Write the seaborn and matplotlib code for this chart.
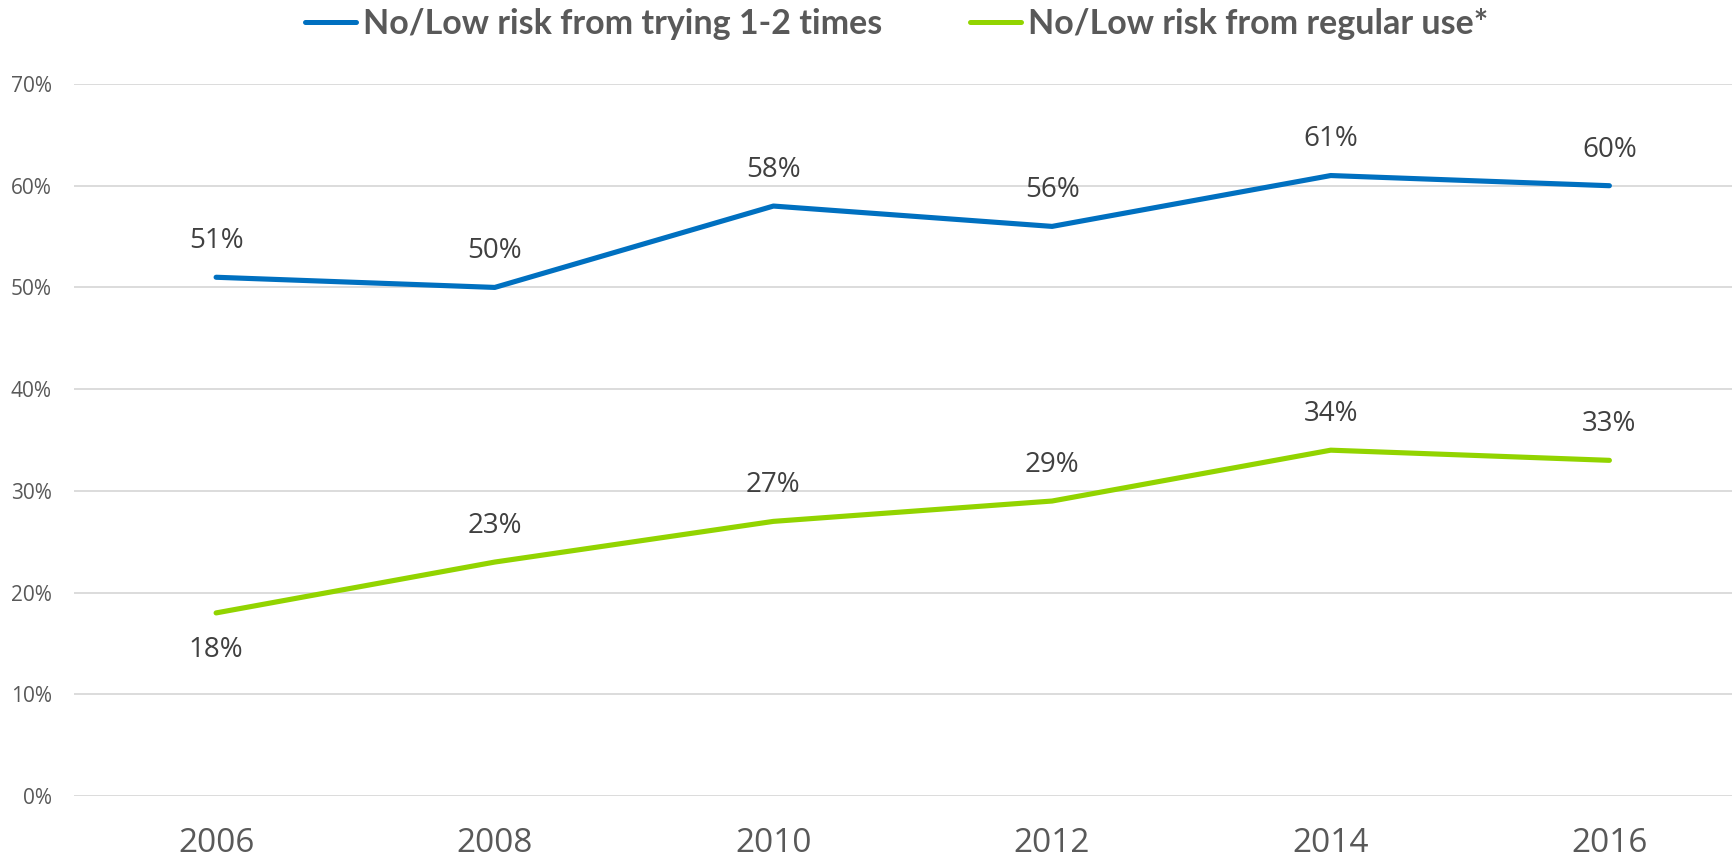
#!/usr/bin/env python3
"""Perceived risk of marijuana use, 2006-2016 (line chart, seaborn)."""

import numpy as np
import pandas as pd
import seaborn as sns
from matplotlib import pyplot as plt

years = ["2006", "2008", "2010", "2012", "2014", "2016"]
series_names = ["No/Low risk from trying 1-2 times", "No/Low risk from regular use*"]
trying_vals = [51, 50, 58, 56, 61, 60]
regular_vals = [18, 23, 27, 29, 34, 33]
y_ticks = [0, 10, 20, 30, 40, 50, 60, 70]

BLUE = "#0070C0"
GREEN = "#92D400"
GREY_TXT = "#595959"
LABEL_TXT = "#404040"


def main():
    sns.set_theme(style="white")
    plt.rcParams["font.family"] = ["Open Sans", "DejaVu Sans"]

    pos = np.arange(len(years))
    df = pd.DataFrame(
        {
            "pos": np.concatenate([pos, pos]),
            "value": trying_vals + regular_vals,
            "series": [series_names[0]] * len(years) + [series_names[1]] * len(years),
        }
    )

    fig = plt.figure(figsize=(17.32, 8.6), dpi=100)
    ax = fig.add_axes([74 / 1732, 64 / 860, 1 - 74 / 1732, (796 - 84) / 860])

    sns.lineplot(
        data=df,
        x="pos",
        y="value",
        hue="series",
        palette=[BLUE, GREEN],
        linewidth=3.7,
        ax=ax,
        legend=False,
        solid_capstyle="round",
    )

    # Étiquettes de données : au-dessus, sauf le premier point vert (en dessous)
    for vals, color in [(trying_vals, BLUE), (regular_vals, GREEN)]:
        for i, v in enumerate(vals):
            below = vals is regular_vals and i == 0
            ax.annotate(
                f"{v}%",
                xy=(pos[i], v),
                xytext=(0, -27 if below else 26),
                textcoords="offset points",
                ha="center",
                va="center",
                fontsize=20,
                color=LABEL_TXT,
            )

    ax.set_xlim(-0.51, 5.44)
    ax.set_ylim(0, 70)
    ax.set_yticks(y_ticks)
    ax.set_yticklabels([f"{t}%" for t in y_ticks])
    ax.set_xticks(pos)
    ax.set_xticklabels(years)
    ax.set_xlabel("")
    ax.set_ylabel("")
    ax.grid(axis="y", color="#D9D9D9", linewidth=1.3)
    ax.grid(axis="x", visible=False)
    ax.set_axisbelow(True)
    for side in ["top", "right", "left", "bottom"]:
        ax.spines[side].set_visible(False)
    ax.tick_params(axis="y", length=0, pad=16, labelsize=15, labelcolor=GREY_TXT)
    ax.tick_params(axis="x", length=0, pad=22, labelsize=24, labelcolor=GREY_TXT)

    # Légende en haut
    handles = [
        plt.Line2D([], [], color=BLUE, linewidth=3.6, solid_capstyle="round"),
        plt.Line2D([], [], color=GREEN, linewidth=3.6, solid_capstyle="round"),
    ]
    leg = fig.legend(
        handles,
        series_names,
        loc="center",
        bbox_to_anchor=(0.5177, 0.972),
        ncol=2,
        frameon=False,
        handlelength=1.5,
        handletextpad=0.2,
        columnspacing=2.6,
        prop={"family": ["Lato", "DejaVu Sans"], "weight": "bold", "size": 24.5},
    )
    for t in leg.get_texts():
        t.set_color(GREY_TXT)

    fig.savefig("out.png", dpi=100)


if __name__ == "__main__":
    main()
